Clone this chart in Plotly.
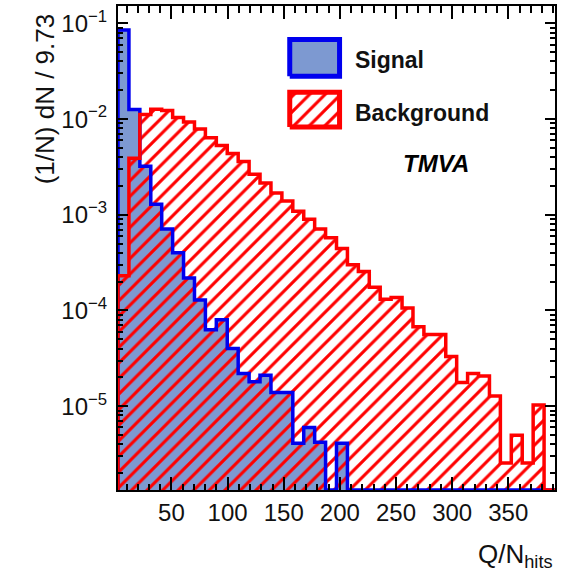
import numpy as np
import plotly.graph_objects as go

# ---- data ----
x_min = 2.4
bin_width = 9.73
n_bins = 40

signal = [0.0856, 0.0126, 3.21e-3, 1.29e-3, 7.1e-4, 4.0e-4, 2.19e-4, 1.29e-4, 6.3e-5, 8.0e-5,
          4.0e-5, 2.2e-5, 1.8e-5, 2.1e-5, 1.39e-5, 1.39e-5, 4.1e-6, 6.0e-6, 4.2e-6, 0,
          4.1e-6, 0, 0, 0, 0, 0, 0, 0, 0, 0,
          0, 0, 0, 0, 0, 0, 0, 0, 0, 0]
background = [2.3e-4, 3.9e-3, 0.0112, 0.0127, 0.0123, 0.0104, 9.3e-3, 7.9e-3, 6.4e-3, 5.3e-3,
              4.36e-3, 3.6e-3, 2.65e-3, 2.15e-3, 1.69e-3, 1.39e-3, 1.09e-3, 9.0e-4, 7.1e-4, 5.77e-4,
              4.45e-4, 3.0e-4, 2.56e-4, 1.75e-4, 1.31e-4, 1.37e-4, 1.06e-4, 6.78e-5, 5.6e-5, 5.6e-5,
              3.3e-5, 1.77e-5, 2.2e-5, 2.07e-5, 1.28e-5, 2.55e-6, 4.98e-6, 2.55e-6, 1.03e-5, 0]

x_tick_vals = [50, 100, 150, 200, 250, 300, 350]
y_tick_exps = [-5, -4, -3, -2, -1]
y_title = "(1/N) dN / 9.73"
x_title = "Q/N<sub>hits</sub>"
legend_labels = ["Signal", "Background"]

# ---- styling ----
FONT = "Liberation Sans"
SIG_FILL = "#7d99d1"
SIG_LINE = "#0000ee"
BKG_LINE = "#ff0000"
y_lo, y_hi = -5.876, -0.818
floor = 10 ** y_lo

edges = x_min + bin_width * np.arange(n_bins + 1)


def step_path(vals):
    xs, ys = [edges[0]], [floor]
    for i, v in enumerate(vals):
        v = v if v > 0 else floor
        xs += [edges[i], edges[i + 1]]
        ys += [v, v]
    xs.append(edges[-1])
    ys.append(floor)
    return xs, ys


sx, sy = step_path(signal)
bx, by = step_path(background)

hatch = dict(shape="/", fgcolor=BKG_LINE, bgcolor="rgba(0,0,0,0)",
             size=11, solidity=0.28, fgopacity=1, fillmode="replace")

fig = go.Figure()
# signal fill
fig.add_trace(go.Scatter(x=sx, y=sy, mode="lines", fill="toself", fillcolor=SIG_FILL,
                         line=dict(width=0), hoverinfo="skip", showlegend=False))
# background hatch
fig.add_trace(go.Scatter(x=bx, y=by, mode="lines", fill="toself", fillcolor="rgba(0,0,0,0)",
                         fillpattern=hatch, line=dict(width=0), hoverinfo="skip", showlegend=False))
# outlines
fig.add_trace(go.Scatter(x=sx, y=sy, mode="lines", line=dict(color=SIG_LINE, width=3.5),
                         hoverinfo="skip", showlegend=False))
fig.add_trace(go.Scatter(x=bx, y=by, mode="lines", line=dict(color=BKG_LINE, width=3.5),
                         hoverinfo="skip", showlegend=False))

# legend keys (overlay axes in plot-area fractions)
lx0, lx1 = 0.393, 0.507
sig_box = (0.855, 0.931)
bkg_box = (0.750, 0.822)
fig.add_trace(go.Scatter(x=[lx0, lx1, lx1, lx0, lx0], y=[sig_box[0]] * 2 + [sig_box[1]] * 2 + [sig_box[0]],
                         mode="lines", fill="toself", fillcolor=SIG_FILL,
                         line=dict(color=SIG_LINE, width=5), xaxis="x2", yaxis="y2",
                         hoverinfo="skip", showlegend=False))
fig.add_trace(go.Scatter(x=[lx0, lx1, lx1, lx0, lx0], y=[bkg_box[0]] * 2 + [bkg_box[1]] * 2 + [bkg_box[0]],
                         mode="lines", fill="toself", fillcolor="rgba(0,0,0,0)",
                         fillpattern=hatch,
                         line=dict(color=BKG_LINE, width=5), xaxis="x2", yaxis="y2",
                         hoverinfo="skip", showlegend=False))

fig.update_layout(
    width=573, height=577,
    margin=dict(l=118, r=18, t=4, b=87),
    paper_bgcolor="white", plot_bgcolor="white",
    font=dict(family=FONT, color="black"),
    showlegend=False,
    xaxis=dict(range=[edges[0], edges[-1]], showgrid=False, zeroline=False,
               showline=True, linecolor="black", linewidth=2, mirror="allticks",
               ticks="inside", ticklen=13, tickwidth=2, tickcolor="black",
               tickvals=x_tick_vals, ticktext=[str(v) for v in x_tick_vals],
               tickfont=dict(size=24, family=FONT, color="#111"),
               minor=dict(ticks="inside", ticklen=6.5, tickwidth=2, tickcolor="black",
                          dtick=10, tick0=0, showgrid=False)),
    yaxis=dict(type="log", range=[y_lo, y_hi], showgrid=False, zeroline=False,
               showline=True, linecolor="black", linewidth=2, mirror="allticks",
               ticks="inside", ticklen=10, tickwidth=2, tickcolor="black",
               tickvals=[10.0 ** e for e in y_tick_exps],
               ticktext=[f"10<sup>\u2212{-e}</sup>" for e in y_tick_exps],
               tickfont=dict(size=24, family=FONT, color="#111"),
               ticklabelstandoff=4,
               minor=dict(ticks="inside", ticklen=5, tickwidth=2, tickcolor="black",
                          dtick="D1", showgrid=False)),
    xaxis2=dict(overlaying="x", range=[0, 1], visible=False),
    yaxis2=dict(overlaying="y", range=[0, 1], visible=False),
    annotations=[
        dict(text=legend_labels[0], xref="paper", yref="paper", x=0.538, y=0.889,
             xanchor="left", yanchor="middle", showarrow=False,
             font=dict(size=23, family=FONT, color="#111", weight="bold")),
        dict(text=legend_labels[1], xref="paper", yref="paper", x=0.538, y=0.778,
             xanchor="left", yanchor="middle", showarrow=False,
             font=dict(size=23, family=FONT, color="#111", weight="bold")),
        dict(text="<b><i>TMVA</i></b>", xref="paper", yref="paper", x=0.728, y=0.675,
             xanchor="center", yanchor="middle", showarrow=False,
             font=dict(size=24, family=FONT, color="black")),
        dict(text=y_title, xref="paper", yref="paper", x=-0.167, y=0.988,
             xanchor="center", yanchor="top", textangle=-90, showarrow=False,
             font=dict(size=26, family=FONT, color="#111")),
        dict(text=x_title, xref="paper", yref="paper", x=1.0, y=-0.097,
             xanchor="right", yanchor="top", showarrow=False,
             font=dict(size=26, family=FONT, color="#111")),
    ],
)

fig.write_html("out.html")
